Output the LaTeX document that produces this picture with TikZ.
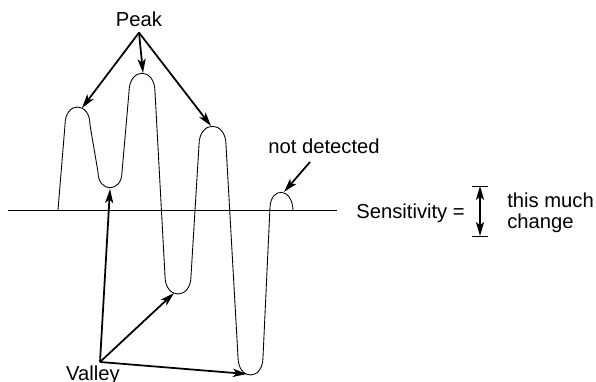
\documentclass[tikz,border=0pt]{standalone}
\usepackage{fontspec}
\setmainfont{Liberation Sans}
\usetikzlibrary{arrows.meta}

\begin{document}
\begin{tikzpicture}[
    x=0.2mm, y=-0.2mm,
    mytext/.style={font=\fontsize{11.5}{11.5}\selectfont},
    mycurve/.style={line width=0.5pt},
    myarrow/.style={-{Stealth[length=8pt,width=4.6pt,inset=2pt]}, line width=1pt},
    mydarrow/.style={{Stealth[length=8pt,width=4.6pt,inset=2pt]}-{Stealth[length=8pt,width=4.6pt,inset=2pt]}, line width=1pt}
]
    \useasboundingbox (0,0) rectangle (596,382);

    % Threshold line
    \draw[mycurve] (8,210.5) -- (337,210.5);

    % Signal
    \draw[mycurve] (58,210) -- (65,125)
        .. controls (65,101) and (90,101) .. (90,125) -- (98,172)
        .. controls (98,193) and (122,193) .. (122,172) -- (129,92)
        .. controls (129,67) and (155,67) .. (155,92) -- (165,276)
        .. controls (165,300) and (191,300) .. (191,276) -- (199,145)
        .. controls (199,120) and (226,120) .. (226,145) -- (238,357)
        .. controls (238,381) and (263,381) .. (263,357) -- (270,207)
        .. controls (271,187) and (292,187) .. (293,210);

    % Peaks
    \node[mytext] (peak) at (139,19) {Peak};
    \coordinate (p1) at (82,108);
    \coordinate (p2) at (143,73);
    \coordinate (p3) at (211,126);
    \draw[myarrow] (peak.south) -- (p1);
    \draw[myarrow] (peak.south) -- (p2);
    \draw[myarrow] (peak.south) -- (p3);

    % Valleys
    \node[mytext] (valley) at (93,375) {Valley};
    \coordinate (vsrc) at (100,362);
    \coordinate (v1) at (110,189);
    \coordinate (v2) at (174,293);
    \coordinate (v3) at (247,374);
    \draw[myarrow] (vsrc) -- (v1);
    \draw[myarrow] (vsrc) -- (v2);
    \draw[myarrow] (vsrc) -- (v3);

    % Small peak
    \node[mytext] (notdet) at (324,146) {not detected};
    \coordinate (ndsrc) at (310,162);
    \coordinate (p4) at (284,192);
    \draw[myarrow] (ndsrc) -- (p4);

    % Sensitivity
    \node[mytext, anchor=base west, inner sep=0] (sens) at (356,218) {Sensitivity =};
    \coordinate (ctop) at (480,186);
    \coordinate (cbot) at (480,236);
    \draw[mycurve] (472,186) -- (488,186);
    \draw[mycurve] (472,236) -- (488,236);
    \draw[mydarrow] (ctop) -- (cbot);
    \node[mytext, anchor=north west, inner sep=0, align=left] (chg) at (507,193) {this much\\change};
\end{tikzpicture}
\end{document}
